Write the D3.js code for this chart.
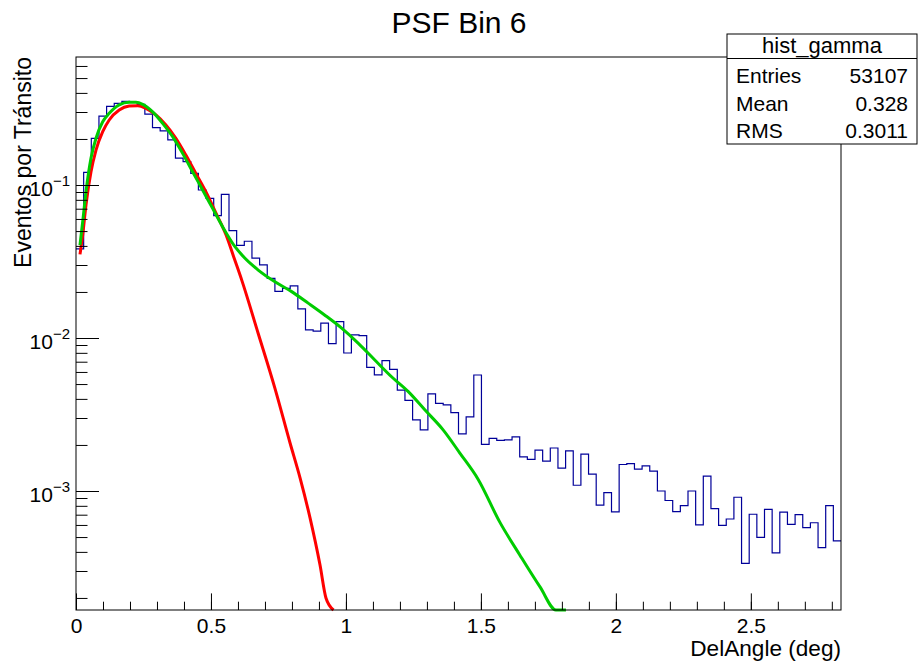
<!DOCTYPE html>
<html><head><meta charset="utf-8">
<script src="https://cdn.jsdelivr.net/npm/d3@7"></script>
<style>body{margin:0;background:#fff}text{font-family:"Liberation Sans",Arial,Helvetica,sans-serif}</style>
</head><body>
<svg id="c" width="918" height="663"></svg>
<script>
// ---- data ----
const histRange = [0, 2.834];
const histValues = [
 0.0382,0.121,0.202,0.282,0.327,0.342,0.352,0.347,0.337,0.291,
 0.237,0.226,0.197,0.150,0.142,0.119,0.0928,0.0818,0.0630,0.0869,
 0.0503,0.0403,0.0429,0.0333,0.0301,0.0245,0.0202,0.0211,0.0219,0.0155,
 0.0113,0.0111,0.0125,0.00918,0.0128,0.00798,0.01047,0.01035,0.00643,0.00575,
 0.00711,0.00624,0.00457,0.00391,0.00292,0.00251,0.00432,0.00374,0.00365,0.00325,
 0.00236,0.00305,0.00573,0.00202,0.00221,0.00214,0.00216,0.00226,0.00167,0.00161,
 0.00185,0.00157,0.00191,0.00141,0.00183,0.00109,0.00174,0.00129,0.000809,0.000975,
 0.000730,0.00149,0.00151,0.00139,0.00146,0.00135,0.00100,0.000867,0.000733,0.000802,
 0.00100,0.000600,0.00125,0.000766,0.000597,0.000656,0.000910,0.000336,0.000705,0.000498,
 0.000759,0.000394,0.000727,0.000606,0.000700,0.000576,0.000620,0.000426,0.000802,0.000472
];
const redX = [0.0148,0.0248,0.037,0.0556,0.0741,0.0989,0.123,0.160,0.197,0.229,0.259,0.296,0.333,0.370,0.407,0.444,0.481,0.519,0.556,0.586,0.614,0.675,0.737,0.793,0.830,0.867,0.904,0.926,0.954];
const redY = [0.0352,0.0471,0.0740,0.122,0.169,0.223,0.266,0.309,0.328,0.330,0.317,0.287,0.247,0.202,0.157,0.119,0.0904,0.0653,0.0471,0.0332,0.0239,0.0107,0.00469,0.00206,0.00122,0.000667,0.000328,0.000200,0.000106];
const greenX = [0.0148,0.0248,0.037,0.0556,0.0741,0.0989,0.123,0.160,0.197,0.222,0.247,0.284,0.321,0.358,0.395,0.432,0.469,0.506,0.543,0.589,0.626,0.675,0.737,0.799,0.860,0.922,0.984,1.046,1.107,1.169,1.231,1.293,1.360,1.422,1.490,1.570,1.644,1.719,1.778,1.815];
const greenY = [0.0405,0.0575,0.0904,0.150,0.202,0.259,0.294,0.334,0.347,0.347,0.337,0.301,0.253,0.207,0.161,0.122,0.0928,0.0704,0.0534,0.0395,0.0332,0.0278,0.0233,0.0201,0.0169,0.0141,0.0116,0.00923,0.00718,0.00558,0.00446,0.00338,0.00251,0.00177,0.00119,0.000626,0.000382,0.000236,0.000167,0.000124];
const yRange = [1.668e-4, 0.6866];
const xMajorTicks = [0, 0.5, 1, 1.5, 2, 2.5];
const xTickLabels = ["0", "0.5", "1", "1.5", "2", "2.5"];
const yMajorExponents = [-1, -2, -3];
const statsTitle = "hist_gamma";
const statsLabels = ["Entries", "Mean", "RMS"];
const statsValues = ["53107", "0.328", "0.3011"];
const chartTitle = "PSF Bin 6";
const xTitle = "DelAngle (deg)";
const yTitle = "Eventos por Tránsito";

// ---- layout ----
const L = 76, R = 841, T = 57, B = 610;
const svg = d3.select("#c");
const x = d3.scaleLinear().domain(histRange).range([L, R]);
const y = d3.scaleLog().domain(yRange).range([B, T]).clamp(true);

// histogram
const nb = histValues.length, bw = (histRange[1] - histRange[0]) / nb;
const pts = [];
histValues.forEach((v, i) => {
  pts.push([x(histRange[0] + i * bw), y(v)]);
  pts.push([x(histRange[0] + (i + 1) * bw), y(v)]);
});
svg.append("path").attr("d", d3.line()(pts))
  .attr("fill", "none").attr("stroke", "#000099").attr("stroke-width", 1.2);

// fit curves
const curve = d3.line().x(d => x(d[0])).y(d => y(d[1])).curve(d3.curveMonotoneX);
svg.append("path").attr("d", curve(redX.map((v, i) => [v, redY[i]])))
  .attr("fill", "none").attr("stroke", "#ff0000").attr("stroke-width", 3);
svg.append("path").attr("d", curve(greenX.map((v, i) => [v, greenY[i]])))
  .attr("fill", "none").attr("stroke", "#00cc00").attr("stroke-width", 3);

// x axis
const xMinor = d3.range(0, 2.84, 0.1);
svg.append("g").attr("transform", `translate(0,${B})`)
  .call(d3.axisBottom(x).tickValues(xMinor).tickSize(-8.3).tickFormat(""))
  .call(g => g.select(".domain").remove());
svg.append("g").attr("transform", `translate(0,${B})`)
  .call(d3.axisBottom(x).tickValues(xMajorTicks).tickSize(-16.6).tickPadding(8)
    .tickFormat((d, i) => xTickLabels[i]))
  .call(g => g.select(".domain").remove())
  .call(g => g.selectAll("text").attr("font-size", 21).attr("fill", "#000")
    .attr("font-family", "Liberation Sans, Arial, sans-serif"));

// y axis
const yMinor = [];
[-4, -3, -2, -1].forEach(e => { for (let k = 2; k <= 9; k++) { const v = k * Math.pow(10, e); if (v >= yRange[0] && v <= yRange[1]) yMinor.push(v); } });
svg.append("g").attr("transform", `translate(${L},0)`)
  .call(d3.axisLeft(y).tickValues(yMinor).tickSize(-11.5).tickFormat(""))
  .call(g => g.select(".domain").remove());
const yMajor = yMajorExponents.map(e => Math.pow(10, e));
svg.append("g").attr("transform", `translate(${L},0)`)
  .call(d3.axisLeft(y).tickValues(yMajor).tickSize(-23).tickFormat(""))
  .call(g => g.select(".domain").remove());
yMajorExponents.forEach(e => {
  const t = svg.append("text").attr("x", 70).attr("y", y(Math.pow(10, e)) + 11)
    .attr("text-anchor", "end").attr("font-size", 21);
  t.append("tspan").text("10");
  t.append("tspan").attr("dy", -10).attr("font-size", 15).text("\u2212" + Math.abs(e));
});

// frame
svg.append("rect").attr("x", L).attr("y", T).attr("width", R - L).attr("height", B - T)
  .attr("fill", "none").attr("stroke", "#000").attr("stroke-width", 1);

// titles
svg.append("text").attr("x", 459).attr("y", 33).attr("text-anchor", "middle")
  .attr("font-size", 30).text(chartTitle);
svg.append("text").attr("x", R).attr("y", 656).attr("text-anchor", "end")
  .attr("font-size", 22.6).text(xTitle);
svg.append("text").attr("transform", `translate(31,${T}) rotate(-90)`)
  .attr("text-anchor", "end").attr("font-size", 23).text(yTitle);

// stats box
const bx = 727, by = 34, bwid = 190, bh = 110;
svg.append("rect").attr("x", bx).attr("y", by).attr("width", bwid).attr("height", bh)
  .attr("fill", "#fff").attr("stroke", "#000").attr("stroke-width", 1);
svg.append("line").attr("x1", bx).attr("x2", bx + bwid).attr("y1", 58.5).attr("y2", 58.5)
  .attr("stroke", "#000");
svg.append("text").attr("x", bx + bwid / 2).attr("y", 53).attr("text-anchor", "middle")
  .attr("font-size", 22).text(statsTitle);
statsLabels.forEach((s, i) => {
  const yy = 83 + i * 27.5;
  svg.append("text").attr("x", 736).attr("y", yy).attr("font-size", 21).text(s);
  svg.append("text").attr("x", 908).attr("y", yy).attr("text-anchor", "end").attr("font-size", 21).text(statsValues[i]);
});
</script>
</body></html>
